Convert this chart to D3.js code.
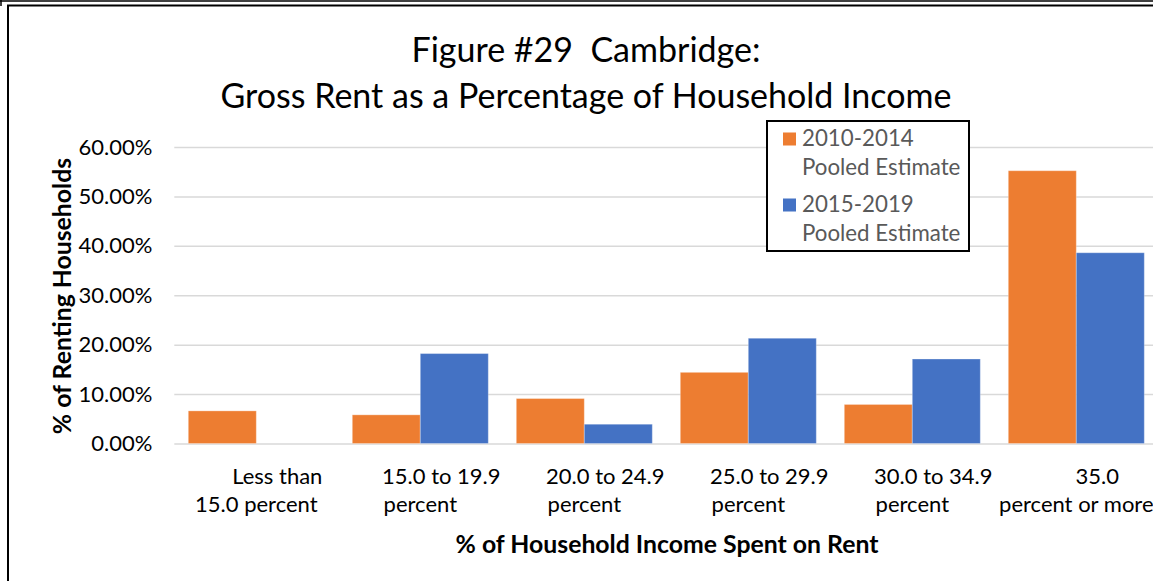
<!DOCTYPE html>
<html>
<head>
<meta charset="utf-8">
<script src="https://cdn.jsdelivr.net/npm/d3@7"></script>
<style>
  html, body { margin: 0; padding: 0; background: #fff; }
  svg { display: block; }
  text { font-family: Lato, "Open Sans", sans-serif; white-space: pre; }
</style>
</head>
<body>
<svg id="chart" width="1153" height="581"></svg>
<script>
// ---- Data ----
const categories = [
  "Less than 15.0 percent",
  "15.0 to 19.9 percent",
  "20.0 to 24.9 percent",
  "25.0 to 29.9 percent",
  "30.0 to 34.9 percent",
  "35.0 percent or more"
];
const categoryLines = [
  ["Less than", "15.0 percent"],
  ["15.0 to 19.9", "percent"],
  ["20.0 to 24.9", "percent"],
  ["25.0 to 29.9", "percent"],
  ["30.0 to 34.9", "percent"],
  ["35.0", "percent or more"]
];
const seriesNames = ["2010-2014 Pooled Estimate", "2015-2019 Pooled Estimate"];
const seriesLegendLines = [["2010-2014", "Pooled Estimate"], ["2015-2019", "Pooled Estimate"]];
const values2010_2014 = [6.6, 5.8, 9.1, 14.4, 7.9, 55.2];
const values2015_2019 = [null, 18.2, 3.9, 21.3, 17.1, 38.6];
const yTicks = [0, 10, 20, 30, 40, 50, 60];
const seriesColors = ["#ED7D31", "#4472C4"];
const titleLines = ["Figure #29  Cambridge:", "Gross Rent as a Percentage of Household Income"];
const xTitle = "% of Household Income Spent on Rent";
const yTitle = "% of Renting Households";

// ---- Layout ----
const svg = d3.select("#chart");
const plot = { left: 174.3, right: 1158.3, top: 147, bottom: 443.5 };
const tickFont = "22px";

// frame
const frame = svg.append("g");
frame.append("line").attr("x1", 0).attr("x2", 1153).attr("y1", 1).attr("y2", 1).attr("stroke", "#000").attr("stroke-width", 1.5);
frame.append("line").attr("x1", 1).attr("x2", 1).attr("y1", 0).attr("y2", 6).attr("stroke", "#000").attr("stroke-width", 1.5);
frame.append("line").attr("x1", 7).attr("x2", 1153).attr("y1", 5.5).attr("y2", 5.5).attr("stroke", "#000").attr("stroke-width", 2);
frame.append("line").attr("x1", 8).attr("x2", 8).attr("y1", 5).attr("y2", 581).attr("stroke", "#000").attr("stroke-width", 2);

const x = d3.scaleBand()
  .domain(categories)
  .range([plot.left, plot.right])
  .paddingInner(28 / 164)
  .paddingOuter(14 / 164);
const xSub = d3.scaleBand().domain(seriesNames).range([0, x.bandwidth()]);
const y = d3.scaleLinear().domain([0, 60]).range([plot.bottom, plot.top]);

// y axis with gridlines
const yAxis = svg.append("g")
  .attr("transform", `translate(${plot.left},0)`)
  .call(d3.axisLeft(y).tickValues(yTicks)
    .tickSize(-(plot.right - plot.left))
    .tickPadding(22)
    .tickFormat(d => d.toFixed(2) + "%"));
yAxis.select(".domain").remove();
yAxis.selectAll(".tick line").attr("stroke", "#d9d9d9").attr("stroke-width", 1.5);
yAxis.selectAll(".tick text").attr("fill", "#000").style("font-size", tickFont).style("font-family", "Lato");

// bars
const data = categories.map((c, i) => ({ cat: c, vals: [values2010_2014[i], values2015_2019[i]] }));
const groups = svg.append("g").selectAll("g").data(data).join("g")
  .attr("transform", d => `translate(${x(d.cat)},0)`);
groups.selectAll("rect")
  .data(d => d.vals.map((v, k) => ({ v, k })).filter(o => o.v != null))
  .join("rect")
  .attr("x", o => xSub(seriesNames[o.k]))
  .attr("width", xSub.bandwidth())
  .attr("y", o => y(o.v))
  .attr("height", o => y(0) - y(o.v))
  .attr("fill", o => seriesColors[o.k])
  .attr("stroke", "rgba(255,255,255,0.3)")
  .attr("stroke-width", 1);

// x axis labels
const xAxis = svg.append("g")
  .attr("transform", `translate(0,${plot.bottom})`)
  .call(d3.axisBottom(x).tickSize(0).tickFormat(""));
xAxis.select(".domain").remove();
xAxis.selectAll(".tick text").remove();
xAxis.selectAll(".tick").each(function(d) {
  const i = categories.indexOf(d);
  const t = d3.select(this).append("text")
    .attr("fill", "#000")
    .attr("text-anchor", "middle")
    .style("font-size", tickFont);
  categoryLines[i].forEach((ln, j) => {
    t.append("tspan")
      .attr("x", j === 0 ? 21 : 0)
      .attr("y", j === 0 ? 40.5 : 68.5)
      .text(ln);
  });
});

// titles
const title = svg.append("text")
  .attr("text-anchor", "middle")
  .attr("fill", "#000")
  .style("font-size", "34px");
titleLines.forEach((ln, j) => {
  title.append("tspan").attr("x", 586).attr("y", j === 0 ? 62 : 108).text(ln);
});

svg.append("text")
  .attr("x", 667).attr("y", 553)
  .attr("text-anchor", "middle")
  .attr("fill", "#000")
  .style("font-size", "24.8px").style("font-weight", "bold")
  .text(xTitle);

svg.append("text")
  .attr("transform", "translate(71,296) rotate(-90)")
  .attr("text-anchor", "middle")
  .attr("fill", "#000")
  .style("font-size", "24.8px").style("font-weight", "bold")
  .text(yTitle);

// legend
const legend = svg.append("g");
legend.append("rect")
  .attr("x", 767).attr("y", 121).attr("width", 202).attr("height", 130)
  .attr("fill", "#fff").attr("stroke", "#000").attr("stroke-width", 2);
seriesNames.forEach((s, k) => {
  const y0 = 132.5 + k * 66;
  legend.append("rect")
    .attr("x", 783).attr("y", y0).attr("width", 13).attr("height", 13)
    .attr("fill", seriesColors[k]);
  const t = legend.append("text").attr("fill", "#595959").style("font-size", "22.3px");
  seriesLegendLines[k].forEach((ln, j) => {
    t.append("tspan").attr("x", 802).attr("y", y0 + 13 + j * 29).text(ln);
  });
});
</script>
</body>
</html>
